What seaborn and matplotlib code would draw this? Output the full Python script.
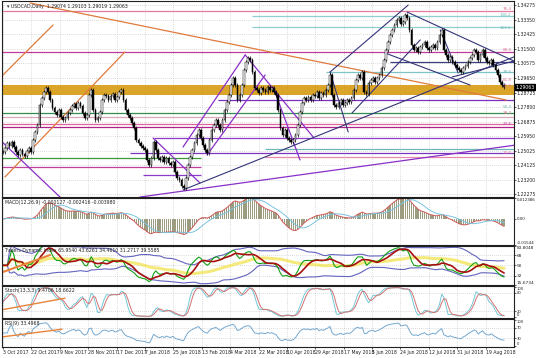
import matplotlib
matplotlib.use('Agg')
import matplotlib.pyplot as plt
import numpy as np
import pandas as pd
import seaborn as sns

sns.set_theme(style='white')
plt.rcParams['font.family'] = ['DejaVu Sans']

# daily closes USDCAD, 3 Oct 2017 -> 24 Aug 2018
closes = [
    1.2496, 1.2521, 1.2553, 1.2534, 1.2559, 1.2527, 1.2496, 1.2477, 1.2508, 1.2483,
    1.2470, 1.2502, 1.2521, 1.2496, 1.2572, 1.2622, 1.2667, 1.2794, 1.2838, 1.2876,
    1.2901, 1.2876, 1.2825, 1.2775, 1.2749, 1.2730, 1.2762, 1.2718, 1.2698, 1.2711,
    1.2743, 1.2762, 1.2788, 1.2800, 1.2775, 1.2806, 1.2788, 1.2743, 1.2711, 1.2730,
    1.2857, 1.2889, 1.2762, 1.2698, 1.2711, 1.2749, 1.2825, 1.2857, 1.2851, 1.2825,
    1.2851, 1.2863, 1.2825, 1.2844, 1.2876, 1.2889, 1.2825, 1.2762, 1.2730, 1.2711,
    1.2679, 1.2648, 1.2572, 1.2553, 1.2534, 1.2521, 1.2508, 1.2445, 1.2413, 1.2458,
    1.2559, 1.2508, 1.2458, 1.2445, 1.2464, 1.2432, 1.2458, 1.2426, 1.2413, 1.2432,
    1.2369, 1.2331, 1.2318, 1.2280, 1.2267, 1.2331, 1.2413, 1.2464, 1.2508, 1.2553,
    1.2603, 1.2635, 1.2584, 1.2540, 1.2508, 1.2489, 1.2572, 1.2635, 1.2667, 1.2698,
    1.2667, 1.2635, 1.2698, 1.2762, 1.2813, 1.2857, 1.2920, 1.2965, 1.2920, 1.2825,
    1.2857, 1.2920, 1.3015, 1.3066, 1.3092, 1.3079, 1.3003, 1.2901, 1.2889, 1.2870,
    1.2901, 1.2889, 1.2876, 1.2908, 1.2889, 1.2901, 1.2876, 1.2857, 1.2762, 1.2648,
    1.2603, 1.2635, 1.2584, 1.2572, 1.2559, 1.2572, 1.2603, 1.2667, 1.2749, 1.2806,
    1.2838, 1.2825, 1.2844, 1.2825, 1.2857, 1.2851, 1.2876, 1.2838, 1.2870, 1.2857,
    1.2889, 1.2920, 1.2984, 1.2857, 1.2794, 1.2781, 1.2806, 1.2825, 1.2794, 1.2806,
    1.2825, 1.2813, 1.2838, 1.2889, 1.2952, 1.2984, 1.2965, 1.3003, 1.2876, 1.2863,
    1.2933, 1.2952, 1.2965, 1.2939, 1.2965, 1.2984, 1.3028, 1.3079, 1.3142, 1.3193,
    1.3237, 1.3269, 1.3301, 1.3332, 1.3345, 1.3307, 1.3320, 1.3364, 1.3345, 1.3269,
    1.3174, 1.3142, 1.3155, 1.3130, 1.3161, 1.3174, 1.3193, 1.3155, 1.3142, 1.3161,
    1.3174, 1.3155, 1.3193, 1.3237, 1.3269, 1.3142, 1.3111, 1.3079, 1.3098, 1.3066,
    1.3047, 1.3028, 1.3015, 1.3003, 1.3028, 1.3041, 1.3066, 1.3092, 1.3111, 1.3142,
    1.3130, 1.3079, 1.3111, 1.3142, 1.3092, 1.3066, 1.3060, 1.3079, 1.3047, 1.3015,
    1.2984, 1.2939, 1.2920, 1.2908,
]
last_price = 1.29063

date_labels = ['3 Oct 2017', '22 Oct 2017', '9 Nov 2017', '28 Nov 2017', '17 Dec 2017',
               '7 Jan 2018', '25 Jan 2018', '13 Feb 2018', '4 Mar 2018', '22 Mar 2018',
               '10 Apr 2018', '29 Apr 2018', '17 May 2018', '5 Jun 2018', '24 Jun 2018',
               '12 Jul 2018', '31 Jul 2018', '19 Aug 2018']
price_ticks = [1.34275, 1.33350, 1.32425, 1.31500, 1.30575, 1.29650, 1.28725,
               1.27800, 1.26875, 1.25950, 1.25025, 1.24125, 1.23200, 1.22275]

# support / resistance levels: price, first bar, last bar
level_prices = [1.3389, 1.3358, 1.3288, 1.3130, 1.3066, 1.3003, 1.2825, 1.2743, 1.2718,
                1.2673, 1.2654, 1.2584, 1.2515, 1.2489, 1.2464, 1.2458, 1.2401, 1.2350]
level_from = [-1, 116, 116, -1, 180, 150, 100, -1, -1, -1, -1, 70, 122, 59, 122, -1, -1, 65]
level_to = [239, 239, 239, 239, 239, 239, 239, 239, 239, 239, 239, 239, 239, 239, 239, 92, 92, 92]
level_colors = ['#e57aa0', '#8fcfcf', '#8fcfcf', '#c03c9c', '#404080', '#7fc4c4', '#7a2fc0',
                '#2f8f4f', '#d8a8b8', '#e0609a', '#b0208c', '#8a3cc8', '#70b8b8', '#7a34c0',
                '#e58aa8', '#3a9a3a', '#c040a0', '#8a3cc8']
zone_low, zone_high = 1.2857, 1.2920

fib_prices = [1.3402, 1.3364, 1.3282, 1.3142, 1.3003, 1.2952, 1.2914, 1.2781, 1.2743, 1.2673, 1.2489]
fib_names = ['76.4', '138.2', '123.6', '88.6', '78.6', '61.8', '50.0', '50.0', '38.2', '23.6', '23.6']
fib_colors = ['#e0709a', '#70b8b8', '#70b8b8', '#e0709a', '#70b8b8', '#e0709a', '#e0709a',
              '#70b8b8', '#e0709a', '#c040a0', '#e0709a']

# drawn trend lines: (bar, price) -> (bar, price)
orange_lines = [((12.6, 1.3440), (234.0, 1.2825)), ((-1.4, 1.2965), (23.3, 1.3301)),
                ((0.9, 1.2337), (56.7, 1.3130))]
purple_lines = [((-1.4, 1.2572), (26.5, 1.2210)), ((69.8, 1.2584), (91.6, 1.2299)),
                ((83.7, 1.2527), (112.6, 1.3111)), ((94.9, 1.2477), (121.9, 1.2984)),
                ((112.6, 1.3111), (144.2, 1.2591)), ((125.6, 1.2908), (138.1, 1.2445)),
                ((63.7, 1.2210), (238.6, 1.2540))]
navy_lines = [((83.7, 1.2255), (238.6, 1.3104)), ((152.1, 1.3003), (188.4, 1.3427)),
              ((162.3, 1.2743), (194.0, 1.3206)), ((152.1, 1.3003), (160.5, 1.2622)),
              ((187.9, 1.3383), (238.6, 1.3066)), ((177.7, 1.3123), (217.2, 1.2920)),
              ((203.3, 1.3269), (211.6, 1.2997)), ((208.8, 1.2971), (239.5, 1.3079))]
tdi_trend = ((0, 38.4), (21.9, 68.1))
stoch_trend = ((0, 25.0), (28.8, 62.5))
rsi_trend = ((0, 35.7), (27.4, 64.3))

# ---- indicators from the closes
df = pd.DataFrame({'close': closes})
df['bar'] = np.arange(len(df))
df['open'] = df['close'].shift(1).fillna(df['close'].iloc[0])
WICK = 0.0011
df['high'] = df[['open', 'close']].max(axis=1) + WICK
df['low'] = df[['open', 'close']].min(axis=1) - WICK

ema12 = df['close'].ewm(span=12, adjust=False).mean()
ema26 = df['close'].ewm(span=26, adjust=False).mean()
df['macd'] = ema12 - ema26
df['signal'] = df['macd'].rolling(9, min_periods=1).mean()


def rsi(s, n):
    d = s.diff().fillna(0)
    up = d.clip(lower=0).ewm(alpha=1 / n, adjust=False).mean()
    dn = (-d.clip(upper=0)).ewm(alpha=1 / n, adjust=False).mean()
    return (100 - 100 / (1 + up / dn.replace(0, np.nan))).fillna(50)


r13 = rsi(df['close'], 13)
df['tdi_base'] = r13.rolling(34, min_periods=1).mean()
sd = r13.rolling(34, min_periods=2).std().bfill()
df['tdi_up'] = df['tdi_base'] + 1.6185 * sd
df['tdi_dn'] = df['tdi_base'] - 1.6185 * sd
df['tdi_green'] = r13.rolling(2, min_periods=1).mean()
df['tdi_red'] = r13.rolling(7, min_periods=1).mean()

hh = df['high'].rolling(13, min_periods=1).max()
ll = df['low'].rolling(13, min_periods=1).min()
df['stoch_k'] = ((df['close'] - ll).rolling(3, min_periods=1).sum()
                 / (hh - ll).rolling(3, min_periods=1).sum() * 100)
df['stoch_d'] = df['stoch_k'].rolling(3, min_periods=1).mean()
df['rsi9'] = rsi(df['close'], 9)

# ---- figure
W, H = 536, 358
fig = plt.figure(figsize=(W / 100, H / 100), dpi=100)
fig.patch.set_facecolor('white')


def panel(top, bot, share=None):
    return fig.add_axes([2 / W, 1 - bot / H, 512 / W, (bot - top) / H], sharex=share)


ax = panel(1, 197)
ax_macd = panel(198, 245, ax)
ax_tdi = panel(246, 285, ax)
ax_st = panel(286, 318, ax)
ax_rsi = panel(319, 347, ax)
axes = [ax, ax_macd, ax_tdi, ax_st, ax_rsi]

XMIN, XMAX = -0.47, 237.6
tick_pos = [13.2 * k for k in range(len(date_labels))]
grid_kw = dict(color='#b8b8b8', lw=0.5, ls=(0, (1, 2)), zorder=0)
for a in axes:
    a.set_facecolor('white')
    for sp in a.spines.values():
        sp.set_color('#202020')
        sp.set_linewidth(0.8)
    a.yaxis.tick_right()
    a.tick_params(axis='y', labelsize=3.3, length=1.5, pad=0.6, width=0.5, colors='#202020')
    a.tick_params(axis='x', bottom=False, labelbottom=False)
    for t in tick_pos:
        a.axvline(t, **grid_kw)


def set_right_labels(a, values, texts, size=3.3):
    a.set_yticks(values)
    a.set_yticklabels(texts, fontsize=size)
    labels = a.get_yticklabels()
    labels[0].set_va('top')
    labels[-1].set_va('bottom')


# main price panel
ax.set_ylim(1.22102, 1.34529)
ax.set_yticks(price_ticks)
ax.set_yticklabels([f'{p:.5f}' for p in price_ticks])
for p in price_ticks:
    ax.axhline(p, **grid_kw)
ax.axhspan(zone_low, zone_high, color='#d9a01e', alpha=0.95, lw=0, zorder=1)
for p, a0, a1, c in zip(level_prices, level_from, level_to, level_colors):
    ax.hlines(p, a0, a1, color=c, lw=0.9, zorder=2)
for group, c, lw in [(orange_lines, '#e07a3c', 0.9), (purple_lines, '#8a2fc8', 0.9),
                     (navy_lines, '#34347a', 0.8)]:
    for (x0, y0), (x1, y1) in group:
        ax.plot([x0, x1], [y0, y1], color=c, lw=lw, zorder=2)

up = df['close'] >= df['open']
ax.vlines(df['bar'], df['low'], df['high'], color='black', lw=0.5, zorder=3)
ax.bar(df['bar'], (df['close'] - df['open']).abs().clip(lower=0.00015),
       bottom=df[['open', 'close']].min(axis=1), width=0.8,
       color=np.where(up, 'white', 'black'), edgecolor='black', lw=0.35, zorder=4)

for p, n, c in zip(fib_prices, fib_names, fib_colors):
    ax.text(236.5, p, n, fontsize=3.0, color=c, ha='right', va='center', zorder=5)

ax.text(0.01, 0.985, '\u25be USDCAD,Daily  1.29074 1.29103 1.29019 1.29063',
        transform=ax.transAxes, fontsize=3.3, va='top', ha='left', color='#202020')
ax.annotate(f'{last_price:.5f}', xy=(1.0, last_price), xycoords=('axes fraction', 'data'),
            xytext=(0.8, 0), textcoords='offset points', fontsize=3.3, color='white',
            va='center', ha='left', annotation_clip=False,
            bbox=dict(boxstyle='square,pad=0.12', fc='black', ec='black'))

# MACD: histogram is the main line, as in MT4
ax_macd.bar(df['bar'], df['macd'], width=0.6, color='#9c9c80', lw=0, zorder=1)
sns.lineplot(data=df, x='bar', y='macd', ax=ax_macd, color='#d05a5a', lw=0.7, legend=False)
sns.lineplot(data=df, x='bar', y='signal', ax=ax_macd, color='#78c4e0', lw=0.7, legend=False)
ax_macd.set_ylim(-0.01544, 0.012386)
set_right_labels(ax_macd, [0.012386, 0.0, -0.01544], ['0.012386', '0.00', '-0.01544'], 2.9)
ax_macd.text(0.005, 0.96, 'MACD(12,26,9) -0.000127 -0.002416 -0.003980',
             transform=ax_macd.transAxes, fontsize=3.3, va='top', color='#202020')

# Traders Dynamic Index
for lv in (32, 50, 68):
    ax_tdi.axhline(lv, **grid_kw)
sns.lineplot(data=df, x='bar', y='tdi_base', ax=ax_tdi, color='#f2e45a', lw=2.2, alpha=0.8, legend=False)
sns.lineplot(data=df, x='bar', y='tdi_up', ax=ax_tdi, color='#6464c0', lw=0.8, legend=False)
sns.lineplot(data=df, x='bar', y='tdi_dn', ax=ax_tdi, color='#6464c0', lw=0.8, legend=False)
sns.lineplot(data=df, x='bar', y='tdi_green', ax=ax_tdi, color='#12a012', lw=0.8, legend=False)
sns.lineplot(data=df, x='bar', y='tdi_red', ax=ax_tdi, color='#a81010', lw=1.2, legend=False)
ax_tdi.plot([tdi_trend[0][0], tdi_trend[1][0]], [tdi_trend[0][1], tdi_trend[1][1]],
            color='#e8843a', lw=1.5)
ax_tdi.set_ylim(15.6734, 83.8048)
set_right_labels(ax_tdi, [83.8048, 68, 50, 32, 15.6734],
                 ['83.8048', '68', '50', '32', '15.6734'], 3.1)
ax_tdi.text(0.005, 0.96, 'Traders Dynamic Index 65.9540 43.6261 34.4610 31.2717 39.5585',
            transform=ax_tdi.transAxes, fontsize=3.3, va='top', color='#202020')

# Stochastic
for lv in (20, 80):
    ax_st.axhline(lv, **grid_kw)
sns.lineplot(data=df, x='bar', y='stoch_k', ax=ax_st, color='#74c8d8', lw=0.7, legend=False)
sns.lineplot(data=df, x='bar', y='stoch_d', ax=ax_st, color='#d27272', lw=0.7, legend=False)
ax_st.plot([stoch_trend[0][0], stoch_trend[1][0]], [stoch_trend[0][1], stoch_trend[1][1]],
           color='#e8843a', lw=1.0)
ax_st.set_ylim(-3, 103)
set_right_labels(ax_st, [100, 80, 20, 0], ['100', '80', '20', '0'], 2.7)
ax_st.text(0.005, 0.94, 'Stoch(13,3,3) 9.4706 18.6622',
           transform=ax_st.transAxes, fontsize=3.3, va='top', color='#202020')

# RSI
for lv in (30, 70):
    ax_rsi.axhline(lv, **grid_kw)
sns.lineplot(data=df, x='bar', y='rsi9', ax=ax_rsi, color='#74a8d0', lw=0.7, legend=False)
ax_rsi.plot([rsi_trend[0][0], rsi_trend[1][0]], [rsi_trend[0][1], rsi_trend[1][1]],
            color='#e8843a', lw=1.0)
ax_rsi.set_ylim(-3, 103)
set_right_labels(ax_rsi, [100, 70, 30, 0], ['100', '70', '30', '0'], 2.7)
ax_rsi.text(0.005, 0.94, 'RSI(9) 33.4968',
            transform=ax_rsi.transAxes, fontsize=3.3, va='top', color='#202020')

ax_rsi.tick_params(axis='x', bottom=True, labelbottom=True, labelsize=3.3, length=1.5,
                   pad=1, width=0.5, colors='#202020')
ax_rsi.set_xticks(tick_pos)
ax_rsi.set_xticklabels(date_labels, ha='left')
for a in axes:
    a.set_xlabel('')
    a.set_ylabel('')
ax.set_xlim(XMIN, XMAX)

fig.savefig('out.png', dpi=100)
